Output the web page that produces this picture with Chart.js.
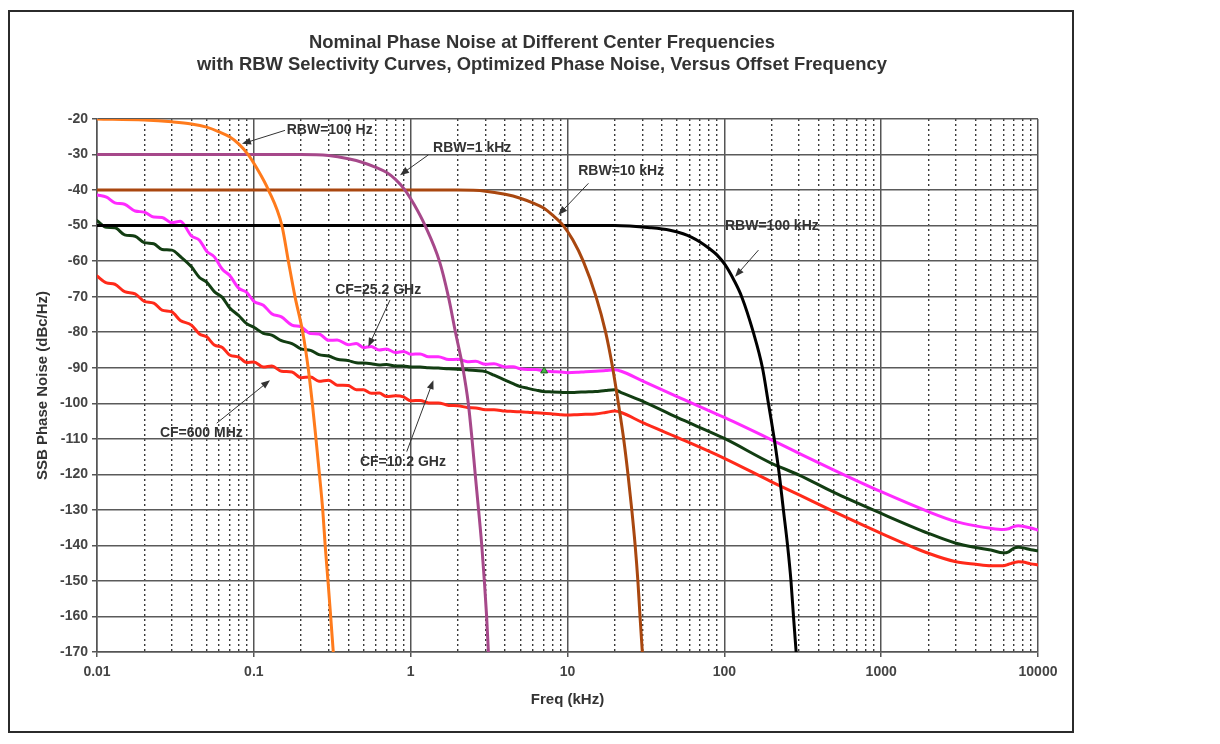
<!DOCTYPE html>
<html>
<head>
<meta charset="utf-8">
<title>Nominal Phase Noise</title>
<script src="https://cdn.jsdelivr.net/npm/chart.js@4.4.1/dist/chart.umd.min.js"></script>
<style>
  body { margin: 0; background: #fff; }
  #frame { position: absolute; left: 8px; top: 10px; width: 1066px; height: 723px; box-sizing: border-box; border: 2px solid #2b2b2b; }
  .ttl { position: absolute; left: 0; width: 1084px; text-align: center; line-height: 22px;
         font: bold 18.4px "Liberation Sans", Arial, sans-serif; color: #333; }
  #myChart { position: absolute; left: 0; top: 0; }
</style>
</head>
<body>
<div id="frame"></div>
<canvas id="myChart" width="1220" height="744"></canvas>
<div class="ttl" style="top:31px">Nominal Phase Noise at Different Center Frequencies</div>
<div class="ttl" style="top:53px">with RBW Selectivity Curves, Optimized Phase Noise, Versus Offset Frequency</div>
<script>
// x axis decades (kHz)
const decades = [0.01, 0.1, 1, 10, 100, 1000, 10000];

// RBW selectivity curves (offset kHz / dBc)
const rbw100HzFreq = [0.01, 0.02, 0.03, 0.04, 0.05, 0.06, 0.07, 0.08, 0.092, 0.105, 0.124, 0.151, 0.166, 0.183, 0.205, 0.222, 0.236, 0.249, 0.262, 0.275, 0.285, 0.297, 0.309, 0.321];
const rbw100HzLevel = [-20, -20.3, -20.8, -21.4, -22.3, -23.6, -25, -27, -30, -34, -40, -50, -60, -70, -80, -90, -100, -110, -120, -130, -140, -150, -160, -170];

const rbw1kHzFreq = [0.01, 0.2, 0.3, 0.4, 0.5, 0.6, 0.7, 0.8, 0.92, 1.05, 1.236, 1.525, 1.74, 1.93, 2.15, 2.33, 2.46, 2.58, 2.71, 2.84, 2.95, 3.05, 3.13];
const rbw1kHzLevel = [-30, -30, -30.3, -31.2, -32.3, -33.6, -35, -37, -40, -44, -50, -60, -70, -80, -90, -100, -110, -120, -130, -140, -150, -160, -170];

const rbw10kHzFreq = [0.01, 2, 3, 4, 5, 6, 7, 8, 9.4, 10.8, 12.6, 15.2, 17.5, 19.4, 21.1, 22.8, 24.3, 25.7, 27, 28.1, 29, 30];
const rbw10kHzLevel = [-40, -40, -40.3, -41.2, -42.3, -43.6, -45, -47, -50, -54, -60, -70, -80, -90, -100, -110, -120, -130, -140, -150, -160, -170];

const rbw100kHzFreq = [0.01, 20, 33.6, 45, 54.6, 62, 70, 81, 90, 101, 115, 129, 153, 175, 191, 208, 224, 238, 253, 266, 276, 287];
const rbw100kHzLevel = [-50, -50, -50.6, -51.3, -52.3, -53.3, -54.6, -56.6, -58.3, -61, -65.3, -70, -80, -90, -100, -110, -120, -130, -140, -150, -160, -170];

// measured phase noise (offset kHz / dBc/Hz)
const noiseFreq = [0.01, 0.0115, 0.013, 0.015, 0.0175, 0.02, 0.023, 0.026, 0.03, 0.034,
  0.04, 0.045, 0.05, 0.056, 0.063, 0.07, 0.08, 0.09, 0.1, 0.115,
  0.13, 0.15, 0.175, 0.2, 0.23, 0.26, 0.3, 0.34, 0.4, 0.45,
  0.5, 0.56, 0.63, 0.7, 0.8, 0.9, 1, 1.15, 1.3, 1.5,
  1.75, 2, 2.3, 2.6, 3, 3.4, 4, 4.5, 5, 5.6,
  6.3, 7, 8, 9, 10, 11.5, 13, 15, 17.5, 20,
  22, 30, 50, 100, 200, 300, 500, 1000, 2000, 3000,
  4000, 5000, 6000, 6500, 7000, 7500, 8000, 9000, 10000];

const cf25GHz = [-41.4, -42.0, -43.6, -44.0, -45.9, -46.2, -47.6, -47.7, -49.2, -48.8,
  -52.9, -54.1, -57.2, -58.8, -62.3, -64.0, -67.6, -68.8, -71.3, -72.4,
  -74.8, -75.7, -78.0, -78.5, -80.4, -80.5, -82.3, -82.2, -83.5, -83.2,
  -84.3, -84.0, -85.0, -84.7, -85.7, -85.4, -86.2, -86.1, -86.9, -86.9,
  -87.7, -87.6, -88.3, -88.2, -89.0, -88.9, -89.8, -89.7, -90.3, -90.5,
  -90.5, -90.9, -91.1, -91.2, -91.4, -91.3, -91.1, -91.0, -90.8, -90.6,
  -91.0, -93.7, -98.1, -104.0, -110.3, -114.1, -118.8, -124.9, -130.5, -133.3,
  -134.5, -135.2, -135.5, -135.3, -134.7, -134.5, -134.6, -135.1, -135.7];

const cf10GHz = [-48.6, -50.5, -50.6, -52.6, -53.0, -54.8, -55.1, -56.7, -56.9, -58.7,
  -61.6, -64.6, -65.9, -68.6, -70.2, -73.1, -75.3, -77.6, -78.6, -80.3,
  -80.8, -82.4, -83.2, -84.7, -85.1, -86.3, -86.7, -87.6, -88.0, -88.6,
  -88.7, -88.9, -89.2, -89.1, -89.5, -89.5, -89.8, -89.8, -90.0, -90.1,
  -90.3, -90.4, -90.6, -90.8, -91.1, -92.1, -93.5, -94.5, -95.3, -95.8,
  -96.3, -96.7, -96.8, -96.9, -97.0, -96.9, -96.8, -96.7, -96.4, -96.2,
  -97.0, -99.4, -104.0, -109.9, -116.9, -120.2, -125.1, -131.0, -136.6, -139.4,
  -140.6, -141.3, -142.1, -141.8, -140.8, -140.5, -140.7, -141.2, -141.5];

const cf600MHz = [-64.2, -66.1, -66.5, -68.6, -69.2, -71.3, -71.8, -73.8, -74.3, -76.7,
  -78.0, -80.5, -81.3, -83.6, -84.3, -86.4, -87.0, -88.5, -88.4, -89.8,
  -89.5, -91.0, -91.2, -92.8, -92.6, -93.8, -93.5, -94.9, -95.0, -96.2,
  -96.2, -97.2, -97.1, -98.1, -97.9, -98.2, -99.3, -99.2, -99.9, -99.9,
  -100.6, -100.7, -101.2, -101.3, -101.8, -101.8, -102.2, -102.3, -102.4, -102.5,
  -102.7, -102.8, -103.0, -103.2, -103.3, -103.2, -103.1, -103.0, -102.6, -102.2,
  -102.6, -105.4, -109.6, -115.5, -122.1, -125.8, -130.5, -136.6, -142.2, -144.6,
  -145.3, -145.7, -145.7, -145.3, -144.9, -144.6, -144.7, -145.2, -145.5];

// small marker sitting on the 25.2 GHz trace
const markerPoint = [7.1, -90.9];

// callouts: text anchor, arrow start, arrow tip (kHz, dB)
const notes = [
  { text: "RBW=100 Hz", at: [0.162, -23.0], from: [0.158, -23.2], to: [0.084, -27.0] },
  { text: "RBW=1 kHz", at: [1.39, -28.2], from: [1.297, -30.1], to: [0.855, -35.8] },
  { text: "RBW=10 kHz", at: [11.7, -34.8], from: [13.6, -38.1], to: [8.75, -47.0] },
  { text: "RBW=100 kHz", at: [101, -50.1], from: [165, -56.9], to: [117, -64.4] },
  { text: "CF=25.2 GHz", at: [0.33, -68.1], from: [0.739, -70.9], to: [0.537, -84.1] },
  { text: "CF=600 MHz", at: [0.0252, -108.5], from: [0.058, -105.6], to: [0.1268, -93.5] },
  { text: "CF=10.2 GHz", at: [0.475, -116.5], from: [0.944, -113.6], to: [1.396, -93.5] }
];

const FONT = '"Liberation Sans", Arial, sans-serif';
Chart.defaults.font.family = FONT;
Chart.defaults.color = "#333";

const xy = (fs, vs) => fs.map((f, i) => ({ x: f, y: vs[i] }));
const isDecade = (v) => decades.includes(v);

const xTicks = [];
decades.slice(0, -1).forEach((d) => {
  for (let k = 1; k <= 9; k++) xTicks.push(Number((d * k).toPrecision(2)));
});
xTicks.push(decades[decades.length - 1]);

const curve = (label, data, color) => ({
  label, data, borderColor: color, backgroundColor: color,
  borderWidth: 3, pointRadius: 0, cubicInterpolationMode: "monotone",
  borderCapStyle: "round", borderJoinStyle: "round"
});

const notesPlugin = {
  id: "notes",
  afterDatasetsDraw(chart) {
    const { ctx, scales: { x, y } } = chart;
    ctx.save();
    ctx.font = "bold 14px " + FONT;
    ctx.fillStyle = "#333";
    ctx.strokeStyle = "#333";
    ctx.lineWidth = 1;
    ctx.textBaseline = "middle";
    notes.forEach((n) => {
      ctx.fillText(n.text, x.getPixelForValue(n.at[0]), y.getPixelForValue(n.at[1]));
      const x0 = x.getPixelForValue(n.from[0]), y0 = y.getPixelForValue(n.from[1]);
      const x1 = x.getPixelForValue(n.to[0]), y1 = y.getPixelForValue(n.to[1]);
      const a = Math.atan2(y1 - y0, x1 - x0);
      ctx.beginPath();
      ctx.moveTo(x0, y0);
      ctx.lineTo(x1 - 4 * Math.cos(a), y1 - 4 * Math.sin(a));
      ctx.stroke();
      ctx.beginPath();
      ctx.moveTo(x1, y1);
      ctx.lineTo(x1 - 9 * Math.cos(a) + 3.5 * Math.sin(a), y1 - 9 * Math.sin(a) - 3.5 * Math.cos(a));
      ctx.lineTo(x1 - 9 * Math.cos(a) - 3.5 * Math.sin(a), y1 - 9 * Math.sin(a) + 3.5 * Math.cos(a));
      ctx.closePath();
      ctx.fill();
    });
    ctx.restore();
  }
};

const ctx = document.getElementById("myChart");

new Chart(ctx, {
  type: "line",
  data: {
    datasets: [
      {
        label: "marker", data: [{ x: markerPoint[0], y: markerPoint[1] }],
        showLine: false, pointStyle: "triangle", pointRadius: 4,
        backgroundColor: "#44bb44", borderColor: "#226622", borderWidth: 1
      },
      curve("RBW=100 Hz", xy(rbw100HzFreq, rbw100HzLevel), "#ff7b1c"),
      curve("RBW=1 kHz", xy(rbw1kHzFreq, rbw1kHzLevel), "#a6488a"),
      curve("RBW=10 kHz", xy(rbw10kHzFreq, rbw10kHzLevel), "#a9470f"),
      curve("RBW=100 kHz", xy(rbw100kHzFreq, rbw100kHzLevel), "#000000"),
      curve("CF=25.2 GHz", xy(noiseFreq, cf25GHz), "#ff2bff"),
      curve("CF=10.2 GHz", xy(noiseFreq, cf10GHz), "#123d12"),
      curve("CF=600 MHz", xy(noiseFreq, cf600MHz), "#ff2a1a")
    ]
  },
  options: {
    responsive: false,
    animation: false,
    layout: { padding: { left: 30, right: 182, top: 119, bottom: 32 } },
    plugins: { legend: { display: false }, tooltip: { enabled: false } },
    scales: {
      x: {
        type: "logarithmic",
        min: 0.01,
        max: 10000,
        afterBuildTicks: (axis) => { axis.ticks = xTicks.map((v) => ({ value: v, major: isDecade(v) })); },
        afterFit: (axis) => { axis.height = 60; },
        ticks: {
          autoSkip: false, maxRotation: 0, minRotation: 0, padding: 7,
          color: "#444", font: { size: 14, weight: "bold" },
          callback: (v) => (isDecade(v) ? String(v) : "")
        },
        grid: {
          color: (c) => (c.tick && !isDecade(c.tick.value) ? "#3a3a3a" : "#555"),
          lineWidth: (c) => (c.tick && !isDecade(c.tick.value) ? 1.4 : 1.5),
          tickLength: 5,
          tickColor: (c) => (c.tick && !isDecade(c.tick.value) ? "rgba(0,0,0,0)" : "#555")
        },
        border: { color: "#555", width: 1.5, dash: (c) => (c.tick && !isDecade(c.tick.value) ? [2, 3] : []) },
        title: {
          display: true, text: "Freq (kHz)", color: "#333",
          font: { size: 15, weight: "bold" }, padding: { top: 0, bottom: 3 }
        }
      },
      y: {
        min: -170,
        max: -20,
        afterFit: (axis) => { axis.width = 67; },
        ticks: { stepSize: 10, padding: 4, color: "#444", font: { size: 14, weight: "bold" } },
        grid: { color: "#5a5a5a", lineWidth: 1.5, tickLength: 5, tickColor: "#555" },
        border: { color: "#555", width: 1.5 },
        title: {
          display: true, text: "SSB Phase Noise (dBc/Hz)", color: "#333",
          font: { size: 15, weight: "bold" }, padding: { top: 4, bottom: 0 }
        }
      }
    }
  },
  plugins: [notesPlugin]
});
</script>
</body>
</html>
